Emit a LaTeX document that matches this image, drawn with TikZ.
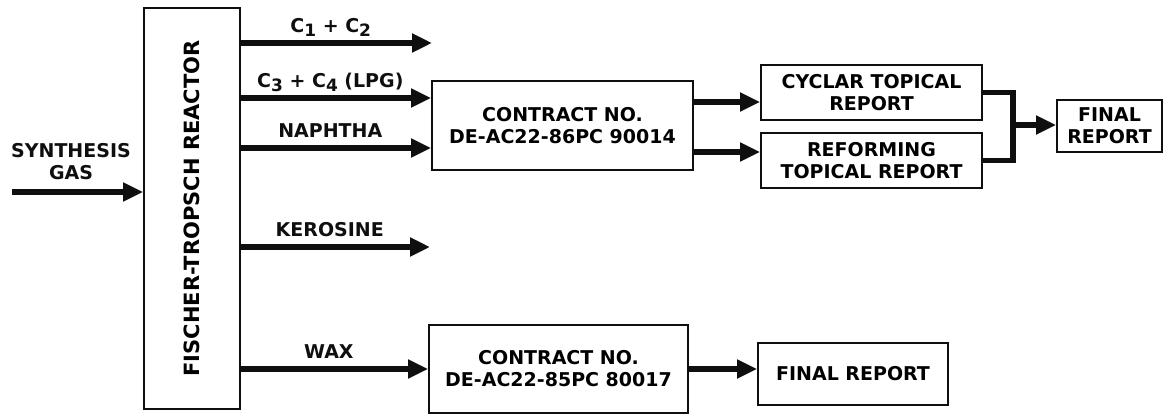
\documentclass[tikz,border=0pt]{standalone}
\usepackage{fontspec}
\setmainfont{DejaVu Sans}
\usepackage{graphicx}
\usepackage{tikz}
\usetikzlibrary{arrows.meta, positioning}
\definecolor{ink}{RGB}{15,15,15}
\newcommand{\lowdigit}[1]{\raisebox{-0.4ex}{\fontsize{17}{17}\selectfont #1}}
\tikzset{
  line/.style={draw=ink, line width=5.5pt},
  flow/.style={draw=ink, line width=5.5pt, -{Triangle[length=20pt, width=18pt]}},
  block/.style={draw=ink, line width=1.8pt, fill=white, rectangle, align=center, inner sep=0pt, font=\fontsize{19}{22}\selectfont\bfseries},
  lbl/.style={text=ink, above=8pt, inner sep=0pt, text depth=0pt, align=center, font=\fontsize{19}{22}\selectfont\bfseries}
}

\begin{document}
\begin{tikzpicture}[x=1pt, y=-1pt]
  \useasboundingbox (0,0) rectangle (1166,415);

  % Reactor with the synthesis gas feed
  \node [block, minimum width=96pt, minimum height=401pt] (reactor) at (192,208.5)
    {\rotatebox{90}{\fontsize{21}{24}\selectfont FISCHER-TROPSCH REACTOR}};
  \coordinate (gasin) at (12,192);
  \draw [flow] (gasin) -- (reactor.west |- gasin)
    node [lbl, pos=0.45, above=10pt] {SYNTHESIS\\GAS};

  % Products leaving the reactor
  \node [block, minimum width=261pt, minimum height=89pt] (contract1) at (562.5,125.5)
    {CONTRACT NO.\\DE-AC22-86PC 90014};
  \node [block, minimum width=259pt, minimum height=88pt] (contract2) at (558.5,369)
    {CONTRACT NO.\\DE-AC22-85PC 80017};
  \coordinate (c12) at (432,43);
  \coordinate (lpg) at (0,98);
  \coordinate (nap) at (0,148);
  \coordinate (ker) at (430,247);

  \draw [flow] (reactor.east |- c12) -- (c12)
    node [lbl, pos=0.47] {C\lowdigit{1} + C\lowdigit{2}};
  \draw [flow] (reactor.east |- lpg) -- (contract1.west |- lpg)
    node [lbl, pos=0.47] {C\lowdigit{3} + C\lowdigit{4} (LPG)};
  \draw [flow] (reactor.east |- nap) -- (contract1.west |- nap)
    node [lbl, pos=0.47] {NAPHTHA};
  \draw [flow] (reactor.east |- ker) -- (ker)
    node [lbl, pos=0.47] {KEROSINE};
  \draw [flow] (reactor.east |- contract2.west) -- (contract2.west)
    node [lbl, pos=0.47] {WAX};

  % Reports of the first contract
  \node [block, minimum width=221pt, minimum height=55pt] (cyclar) at (871.5,92.5)
    {CYCLAR TOPICAL\\REPORT};
  \node [block, minimum width=221pt, minimum height=55pt] (reforming) at (871.5,160.5)
    {REFORMING\\TOPICAL REPORT};
  \node [block, minimum width=105pt, minimum height=52pt] (final1) at (1109.5,126)
    {FINAL\\REPORT};
  \coordinate (out1) at (0,102);
  \coordinate (out2) at (0,152);
  \coordinate (join) at (1013,125);

  \draw [flow] (contract1.east |- out1) -- (cyclar.west |- out1);
  \draw [flow] (contract1.east |- out2) -- (reforming.west |- out2);
  \draw [line] (cyclar.east) -| (join) |- (reforming.east);
  \draw [flow] (join) -- (final1.west |- join);

  % Report of the second contract
  \node [block, minimum width=190pt, minimum height=62pt] (final2) at (853,374)
    {FINAL REPORT};
  \draw [flow] (contract2.east) -- (final2.west |- contract2.east);
\end{tikzpicture}
\end{document}
